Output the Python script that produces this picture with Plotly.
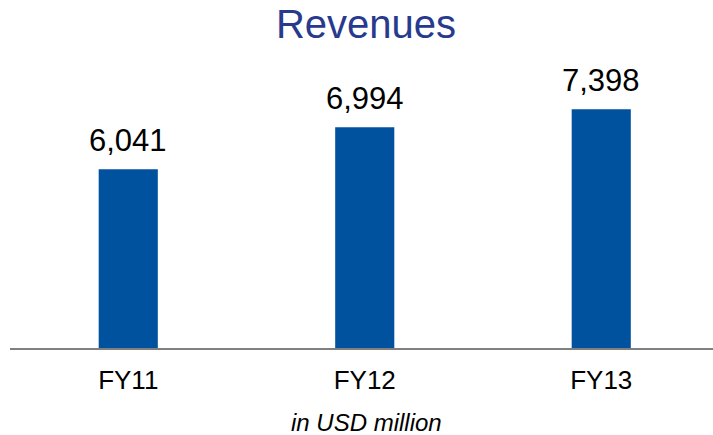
import plotly.graph_objects as go

# Revenue by fiscal year (USD million)
years = ["FY11", "FY12", "FY13"]
revenues = [6041, 6994, 7398]

W, H = 713, 435
M_L, M_R, M_T, M_B = 10, 0, 60, 87
PLOT_H = H - M_T - M_B
Y_MIN = 2000
PX_PER_UNIT = 0.044215
Y_MAX = Y_MIN + PLOT_H / PX_PER_UNIT

FONT = "Arial, Liberation Sans, sans-serif"
BAR_COLOR = "#00529F"
TITLE_COLOR = "#283A8E"

xs = list(range(len(years)))

fig = go.Figure()
fig.add_trace(go.Bar(
    x=xs,
    y=[v - Y_MIN for v in revenues],
    base=Y_MIN,
    width=0.25,
    marker=dict(color=BAR_COLOR, line=dict(width=0)),
    hoverinfo="skip",
))

# value labels above bars
for x, v in zip(xs, revenues):
    fig.add_annotation(
        x=x, y=v, xref="x", yref="y",
        text=f"{v:,}", showarrow=False,
        yanchor="bottom", yshift=9,
        font=dict(family=FONT, size=31, color="#000000"),
    )

# unit note below the axis
fig.add_annotation(
    x=(366 - M_L) / (W - M_L - M_R), y=(H - M_B - 422) / PLOT_H,
    xref="paper", yref="paper", xanchor="center", yanchor="middle",
    text="<i>in USD million</i>", showarrow=False,
    font=dict(family=FONT, size=24, color="#000000"),
)

fig.update_layout(
    width=W, height=H,
    margin=dict(l=M_L, r=M_R, t=M_T, b=M_B),
    paper_bgcolor="white", plot_bgcolor="white",
    showlegend=False,
    title=dict(
        text="Revenues", x=366 / W, xanchor="center",
        y=1 - 24 / H, yanchor="middle",
        font=dict(family=FONT, size=40, color=TITLE_COLOR),
    ),
    xaxis=dict(
        range=[-0.5, (W - M_L - M_R) / 236.5 - 0.5],
        tickmode="array", tickvals=xs, ticktext=years,
        tickfont=dict(family=FONT, size=26, color="#000000"),
        showline=True, linecolor="#808080", linewidth=2,
        showgrid=False, zeroline=False, ticks="",
        ticklabelstandoff=8,
    ),
    yaxis=dict(
        range=[Y_MIN, Y_MAX], visible=False,
        showgrid=False, zeroline=False,
    ),
)

fig.write_html("out.html")
